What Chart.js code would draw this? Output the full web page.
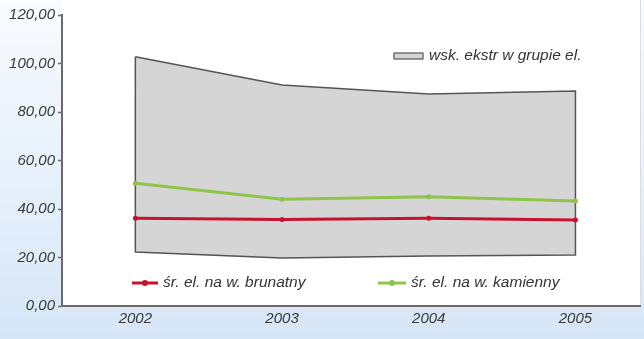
<!DOCTYPE html>
<html>
<head>
<meta charset="utf-8">
<script src="https://cdn.jsdelivr.net/npm/chart.js@4/dist/chart.umd.min.js"></script>
<style>
  html, body { margin: 0; padding: 0; background: #ffffff; }
  #wrap { width: 644px; height: 339px; position: relative; }
</style>
</head>
<body>
<div id="wrap"><canvas id="c" width="644" height="339"></canvas></div>
<script>
// Years on the horizontal axis
const years = [2002, 2003, 2004, 2005];
// Extreme values within the group (upper and lower envelope)
const extremeMax = [102.8, 91.1, 87.4, 88.7];
const extremeMin = [22.3, 19.8, 20.6, 21.0];
// Averages for lignite and hard-coal plants
const lignite = [36.2, 35.7, 36.2, 35.5];
const hardCoal = [50.6, 44.0, 45.1, 43.3];
// Value axis ticks
const yTicks = [0, 20, 40, 60, 80, 100, 120];

const labelBand = 'wsk. ekstr w grupie el.';
const labelLignite = 'śr. el. na w. brunatny';
const labelHard = 'śr. el. na w. kamienny';

const RED = '#c5122e';
const GREEN = '#8fc44a';
const FONT = '"Liberation Sans", Arial, sans-serif';

// Closed outline of the band: upper edge left to right, lower edge back again
const bandOutline = [];
years.forEach((y, i) => bandOutline.push({ x: y, y: extremeMax[i] }));
for (let i = years.length - 1; i >= 0; i--) bandOutline.push({ x: years[i], y: extremeMin[i] });
bandOutline.push({ x: years[0], y: extremeMax[0] });

const pts = arr => years.map((y, i) => ({ x: y, y: arr[i] }));

const backdrop = {
  id: 'backdrop',
  beforeDraw(chart) {
    const { ctx, width, height, chartArea: a } = chart;
    ctx.save();
    const g = ctx.createLinearGradient(0, 0, 0, height);
    g.addColorStop(0, '#f9fbfe');
    g.addColorStop(1, '#d6e6f7');
    ctx.fillStyle = g;
    ctx.fillRect(0, 0, width, height);
    ctx.fillStyle = '#ffffff';
    ctx.fillRect(a.left, 0, a.right - a.left, a.bottom);
    ctx.strokeStyle = '#dcdcdc';
    ctx.lineWidth = 1;
    ctx.beginPath();
    ctx.moveTo(a.right + 0.5, 0);
    ctx.lineTo(a.right + 0.5, a.bottom);
    ctx.stroke();
    ctx.restore();
  }
};

const innerLegend = {
  id: 'innerLegend',
  afterDraw(chart) {
    const { ctx } = chart;
    ctx.save();
    ctx.font = 'italic 15.5px ' + FONT;
    ctx.textBaseline = 'middle';
    ctx.textAlign = 'left';
    // band entry
    ctx.fillStyle = '#d4d4d4';
    ctx.fillRect(394, 53, 29, 6);
    ctx.strokeStyle = '#555555';
    ctx.lineWidth = 1.2;
    ctx.strokeRect(394, 53, 29, 6);
    ctx.fillStyle = '#333333';
    ctx.fillText(labelBand, 429, 56);
    // line entries
    const entry = (x0, x1, y, color, text) => {
      ctx.strokeStyle = color;
      ctx.lineWidth = 3;
      ctx.beginPath();
      ctx.moveTo(x0, y);
      ctx.lineTo(x1, y);
      ctx.stroke();
      ctx.fillStyle = color;
      ctx.beginPath();
      ctx.arc((x0 + x1) / 2, y, 3, 0, Math.PI * 2);
      ctx.fill();
      ctx.fillStyle = '#333333';
      ctx.fillText(text, x1 + 5, y);
    };
    entry(132, 158, 283, RED, labelLignite);
    entry(378, 406, 283, GREEN, labelHard);
    ctx.restore();
  }
};

new Chart(document.getElementById('c'), {
  type: 'line',
  data: {
    datasets: [
      {
        label: labelLignite,
        data: pts(lignite),
        borderColor: RED,
        backgroundColor: RED,
        borderWidth: 3,
        pointRadius: 2.5,
        pointBorderWidth: 0,
        fill: false,
        tension: 0,
        order: 0
      },
      {
        label: labelHard,
        data: pts(hardCoal),
        borderColor: GREEN,
        backgroundColor: GREEN,
        borderWidth: 3,
        pointRadius: 2.5,
        pointBorderWidth: 0,
        fill: false,
        tension: 0,
        order: 1
      },
      {
        label: labelBand,
        data: bandOutline,
        borderColor: '#555555',
        backgroundColor: '#d5d5d5',
        borderWidth: 1.5,
        pointRadius: 0,
        fill: 'shape',
        tension: 0,
        order: 2
      }
    ]
  },
  options: {
    responsive: false,
    animation: false,
    layout: { padding: { top: 15, right: 1, left: 0, bottom: 0 } },
    plugins: {
      legend: { display: false },
      tooltip: { enabled: false }
    },
    scales: {
      x: {
        type: 'linear',
        min: 2001.5,
        max: 2005.44,
        afterBuildTicks: axis => { axis.ticks = years.map(v => ({ value: v })); },
        afterFit: axis => { axis.height = 33; },
        grid: { display: true, drawOnChartArea: false, drawTicks: false },
        border: { display: true, color: '#6a6a6a', width: 2 },
        ticks: {
          padding: 4,
          maxRotation: 0,
          autoSkip: false,
          color: '#3a3a3a',
          font: { family: FONT, size: 15, style: 'italic' },
          callback: v => String(v)
        }
      },
      y: {
        min: 0,
        max: 120,
        afterBuildTicks: axis => { axis.ticks = yTicks.map(v => ({ value: v })); },
        afterFit: axis => { axis.width = 62; },
        grid: { display: true, drawOnChartArea: false, drawTicks: true, tickLength: 4, color: '#6a6a6a', tickWidth: 1.5 },
        border: { display: true, color: '#6a6a6a', width: 2 },
        ticks: {
          padding: 3,
          color: '#3a3a3a',
          font: { family: FONT, size: 15, style: 'italic' },
          callback: v => v.toFixed(2).replace('.', ',')
        }
      }
    }
  },
  plugins: [backdrop, innerLegend]
});
</script>
</body>
</html>
